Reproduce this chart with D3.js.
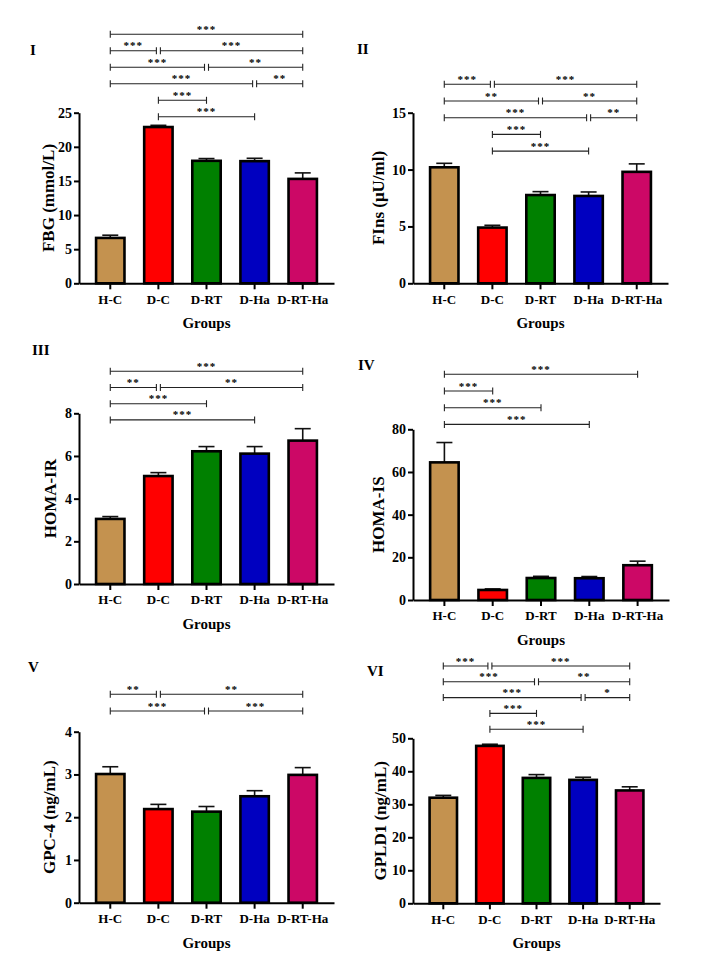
<!DOCTYPE html>
<html><head><meta charset="utf-8">
<script src="https://cdn.jsdelivr.net/npm/d3@7"></script>
<style>body{margin:0;background:#fff}svg{display:block}text{font-family:"Liberation Serif","Times New Roman",serif;font-weight:bold}</style>
</head><body>
<script>
// ---------- DATA ----------
const groups = ["H-C", "D-C", "D-RT", "D-Ha", "D-RT-Ha"];
const colors = ["#C4924F", "#FF0000", "#008000", "#0000C0", "#CC0866"];

const fbgMean  = [6.65, 22.9, 17.95, 17.9, 15.3];
const fbgErr   = [0.4, 0.25, 0.33, 0.42, 0.88];
const finsMean = [10.2, 4.9, 7.76, 7.68, 9.8];
const finsErr  = [0.35, 0.2, 0.3, 0.35, 0.7];
const irMean   = [3.05, 5.06, 6.22, 6.11, 6.72];
const irErr    = [0.11, 0.16, 0.22, 0.33, 0.56];
const isMean   = [64.5, 4.7, 10.3, 10.2, 16.3];
const isErr    = [9.3, 0.5, 0.8, 0.8, 1.9];
const gpcMean  = [3.01, 2.19, 2.13, 2.49, 2.99];
const gpcErr   = [0.17, 0.11, 0.12, 0.13, 0.17];
const gpldMean = [32.0, 47.7, 38.0, 37.4, 34.2];
const gpldErr  = [0.7, 0.5, 1.0, 0.8, 1.1];

const fbgTicks  = [0, 5, 10, 15, 20, 25];
const finsTicks = [0, 5, 10, 15];
const irTicks   = [0, 2, 4, 6, 8];
const isTicks   = [0, 20, 40, 60, 80];
const gpcTicks  = [0, 1, 2, 3, 4];
const gpldTicks = [0, 10, 20, 30, 40, 50];

// significance comparisons: [from group, to group, label, row]
const fbgSig = [["H-C","D-RT-Ha","***",0],["H-C","D-C","***",1],["D-C","D-RT-Ha","***",1],
  ["H-C","D-RT","***",2],["D-RT","D-RT-Ha","**",2],["H-C","D-Ha","***",3],["D-Ha","D-RT-Ha","**",3],
  ["D-C","D-RT","***",4],["D-C","D-Ha","***",5]];
const finsSig = [["H-C","D-C","***",0],["D-C","D-RT-Ha","***",0],["H-C","D-RT","**",1],["D-RT","D-RT-Ha","**",1],
  ["H-C","D-Ha","***",2],["D-Ha","D-RT-Ha","**",2],["D-C","D-RT","***",3],["D-C","D-Ha","***",4]];
const irSig = [["H-C","D-RT-Ha","***",0],["H-C","D-C","**",1],["D-C","D-RT-Ha","**",1],
  ["H-C","D-RT","***",2],["H-C","D-Ha","***",3]];
const isSig = [["H-C","D-RT-Ha","***",0],["H-C","D-C","***",1],["H-C","D-RT","***",2],["H-C","D-Ha","***",3]];
const gpcSig = [["H-C","D-C","**",0],["D-C","D-RT-Ha","**",0],["H-C","D-RT","***",1],["D-RT","D-RT-Ha","***",1]];
const gpldSig = [["H-C","D-C","***",0],["D-C","D-RT-Ha","***",0],["H-C","D-RT","***",1],["D-RT","D-RT-Ha","**",1],
  ["H-C","D-Ha","***",2],["D-Ha","D-RT-Ha","*",2],["D-C","D-RT","***",3],["D-C","D-Ha","***",4]];

// ---------- LAYOUT ----------
const W = 721, H = 977;
const panels = [
  {tag:"I",   title:"FBG (mmol/L)",  mean:fbgMean,  err:fbgErr,  ticks:fbgTicks,  sig:fbgSig,
   x0:79, x1:334, yZero:283.3, yTop:112.7, tagX:30, tagY:55, labX:54, rowStart:34.3, rowStep:16.5},
  {tag:"II",  title:"FIns (μU/ml)",  mean:finsMean, err:finsErr, ticks:finsTicks, sig:finsSig,
   x0:413, x1:668, yZero:283.3, yTop:112.7, tagX:357, tagY:54, labX:384, rowStart:84.3, rowStep:16.7},
  {tag:"III", title:"HOMA-IR",       mean:irMean,   err:irErr,   ticks:irTicks,   sig:irSig,
   x0:79, x1:334, yZero:584, yTop:413.3, tagX:32, tagY:355, labX:56, rowStart:371.3, rowStep:16.2},
  {tag:"IV",  title:"HOMA-IS",       mean:isMean,   err:isErr,   ticks:isTicks,   sig:isSig,
   x0:413, x1:669, yZero:600, yTop:429.3, tagX:358, tagY:370, labX:384, rowStart:374.3, rowStep:16.7},
  {tag:"V",   title:"GPC-4 (ng/mL)", mean:gpcMean,  err:gpcErr,  ticks:gpcTicks,  sig:gpcSig,
   x0:79, x1:334, yZero:902.7, yTop:731.7, tagX:28, tagY:672, labX:55, rowStart:694.3, rowStep:16.7},
  {tag:"VI",  title:"GPLD1 (ng/mL)", mean:gpldMean, err:gpldErr, ticks:gpldTicks, sig:gpldSig,
   x0:413, x1:660, yZero:903.3, yTop:738.3, tagX:367, tagY:676, labX:386, rowStart:666, rowStep:15.8}
];

const svg = d3.select("body").append("svg").attr("width", W).attr("height", H);
svg.append("rect").attr("width", W).attr("height", H).attr("fill", "#fff");

panels.forEach(p => {
  const g = svg.append("g");
  const x = d3.scaleBand().domain(groups).range([p.x0, p.x1]).paddingInner(0.36).paddingOuter(0.33);
  const yMax = p.ticks[p.ticks.length - 1];
  const y = d3.scaleLinear().domain([0, yMax]).range([p.yZero, p.yTop]);
  const rows = groups.map((k, i) => ({k, i, m: p.mean[i], e: p.err[i]}));

  // error bars (upper only)
  const eg = g.append("g").attr("stroke", "#111").attr("stroke-width", 1.6);
  eg.selectAll("line.v").data(rows).join("line")
    .attr("x1", d => x(d.k) + x.bandwidth()/2).attr("x2", d => x(d.k) + x.bandwidth()/2)
    .attr("y1", d => y(d.m)).attr("y2", d => y(d.m + d.e));
  eg.selectAll("line.c").data(rows).join("line")
    .attr("x1", d => x(d.k) + x.bandwidth()/2 - 8).attr("x2", d => x(d.k) + x.bandwidth()/2 + 8)
    .attr("y1", d => y(d.m + d.e)).attr("y2", d => y(d.m + d.e));

  // bars
  g.selectAll("rect.bar").data(rows).join("rect")
    .attr("x", d => x(d.k) + 1.2).attr("width", x.bandwidth() - 2.4)
    .attr("y", d => y(d.m)).attr("height", d => y(0) - y(d.m))
    .attr("fill", d => colors[d.i]).attr("stroke", "#000").attr("stroke-width", 2.6);

  // axes
  const ya = g.append("g").attr("transform", `translate(${p.x0},0)`)
    .call(d3.axisLeft(y).tickValues(p.ticks).tickFormat(d3.format("d")).tickSize(5).tickSizeOuter(0).tickPadding(2));
  ya.select(".domain").attr("stroke-width", 2);
  ya.selectAll(".tick line").attr("stroke-width", 2);
  ya.selectAll("text").attr("font-size", 14).attr("fill", "#000");

  const xa = g.append("g").attr("transform", `translate(0,${p.yZero})`)
    .call(d3.axisBottom(x).tickSize(6).tickSizeOuter(0).tickPadding(5));
  xa.select(".domain").attr("stroke-width", 2);
  xa.selectAll(".tick line").attr("stroke-width", 2);
  xa.selectAll("text").attr("font-size", 13).attr("fill", "#000");

  // axis titles
  g.append("text").attr("transform", `translate(${p.labX},${(p.yZero + p.yTop)/2}) rotate(-90)`)
    .attr("text-anchor", "middle").attr("font-size", 17).text(p.title);
  g.append("text").attr("x", (p.x0 + p.x1)/2).attr("y", p.yZero + 45)
    .attr("text-anchor", "middle").attr("font-size", 15).text("Groups");
  g.append("text").attr("x", p.tagX).attr("y", p.tagY).attr("font-size", 15).text(p.tag);

  // significance brackets
  const cx = k => x(k) + x.bandwidth()/2;
  const sg = g.append("g");
  p.sig.forEach(([a, b, lab, row]) => {
    const yy = p.rowStart + row * p.rowStep;
    const startShared = p.sig.some(s => s[3] === row && s[1] === a);
    const endShared = p.sig.some(s => s[3] === row && s[0] === b);
    const xa1 = cx(a) + (startShared ? 2 : 0);
    const xb1 = cx(b) - (endShared ? 2 : 0);
    const br = sg.append("g").attr("stroke", "#222").attr("stroke-width", 1.1);
    br.append("line").attr("x1", xa1).attr("x2", xb1).attr("y1", yy).attr("y2", yy);
    br.append("line").attr("x1", xa1).attr("x2", xa1).attr("y1", yy - 3.5).attr("y2", yy + 3.5);
    br.append("line").attr("x1", xb1).attr("x2", xb1).attr("y1", yy - 3.5).attr("y2", yy + 3.5);
    sg.append("text").attr("x", (xa1 + xb1)/2).attr("y", yy - 1.5).attr("text-anchor", "middle")
      .attr("font-size", 11).attr("letter-spacing", 1).attr("fill", "#000").text(lab);
  });
});
</script>
</body></html>
